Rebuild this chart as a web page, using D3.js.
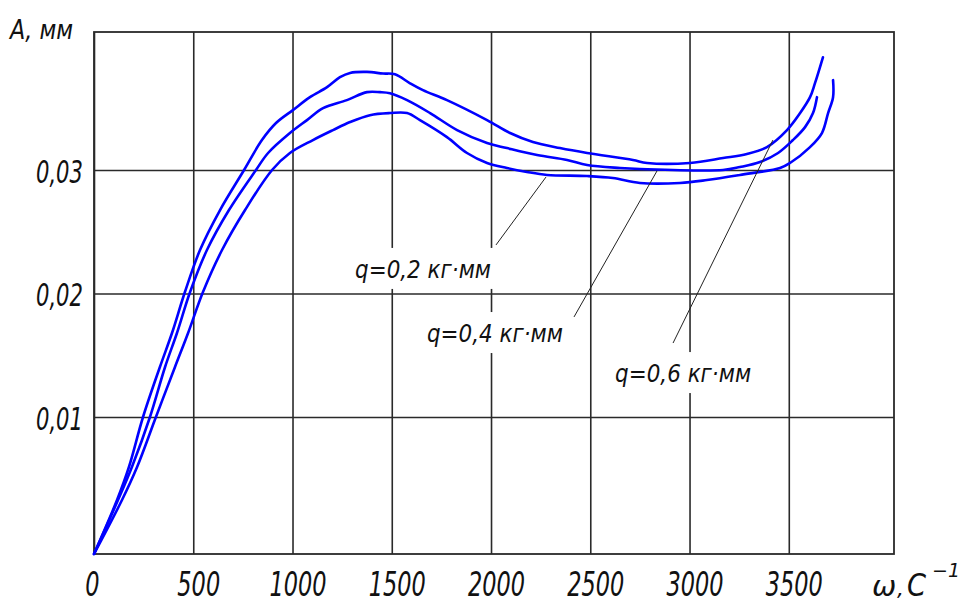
<!DOCTYPE html>
<meta charset="utf-8">
<title>A(ω)</title>
<style>
body {
  margin: 0px;
  background: #fff;
}
svg {
  display: block;
}
.grid line {
  stroke: #2a2a2a;
  stroke-width: 1.6;
}
.frame {
  fill: none;
  stroke: #2a2a2a;
  stroke-width: 1.8;
}
.curve {
  fill: none;
  stroke: #0000ff;
  stroke-width: 2.6;
  stroke-linejoin: round;
  stroke-linecap: round;
}
.leader {
  stroke: #222;
  stroke-width: 1;
}
.lbl {
  font-family: "DejaVu Sans", sans-serif;
  font-style: italic;
  fill: #111;
}
</style>

<script src="https://d3js.org/d3.v7.min.js"></script>

<body>
<script>
var width = 958, height = 601;

// tick values
var omegaTicks = [0, 500, 1000, 1500, 2000, 2500, 3000, 3500];
var ampTicks = [0.01, 0.02, 0.03];

// q = 0,2 кг·мм (lower curve)
var omegaQ02 = [0, 141, 217, 312, 408, 474, 549, 645, 761, 897, 987, 1103, 1204, 1290, 1390, 1491, 1577, 1642, 1778, 1879,
  1980, 2080, 2181, 2282, 2484, 2614, 2750, 2952, 3088, 3254, 3456, 3506, 3607, 3667, 3698, 3723, 3723];
var ampQ02 = [0, .00394, .00635, .0100, .01405, .01680, .02012, .02352, .02676, .0300, .03138, .03243, .03324, .03389, .03445, .03462, .03462, .03405, .03267, .03138,
  .03057, .03016, .02984, .02960, .02951, .02935, .02895, .02895, .02919, .02960, .03016, .03057, .03186, .03300, .03462, .03591, .03729];

// q = 0,4 кг·мм (middle curve)
var omegaQ04 = [0, 121, 191, 282, 358, 418, 484, 569, 680, 816, 877, 987, 1073, 1154, 1274, 1375, 1441, 1491, 1577, 1693,
  1829, 1980, 2080, 2232, 2383, 2484, 2650, 2750, 3169, 3254, 3355, 3446, 3521, 3582, 3622, 3642];
var ampQ04 = [0, .00394, .00635, .0100, .01405, .01680, .02012, .02352, .02676, .0300, .03138, .03300, .03405, .03502, .03567, .03632, .03632, .03623, .03567, .03462,
  .03324, .03219, .03178, .03121, .03081, .03040, .03016, .03008, .0300, .03024, .03065, .03138, .03243, .03348, .03462, .03591];

// q = 0,6 кг·мм (upper curve)
var omegaQ06 = [0, 116, 176, 247, 332, 393, 458, 534, 635, 756, 846, 917, 1002, 1088, 1174, 1239, 1290, 1375, 1456, 1516,
  1592, 1657, 1778, 1980, 2096, 2211, 2347, 2484, 2715, 2786, 3002, 3169, 3289, 3390, 3491, 3557, 3607, 3632, 3672];
var ampQ06 = [0, .00394, .00635, .0100, .01405, .01680, .02012, .02352, .02676, .0300, .03243, .03381, .03486, .03591, .03672, .03753, .03788, .03796, .03783, .03777,
  .03704, .03648, .03567, .03405, .03300, .03227, .03178, .03138, .03081, .03057, .03057, .03097, .03130, .03186, .03324, .03462, .03591, .03705, .03915];

var curveLabels = ["q=0,2 кг·мм", "q=0,4 кг·мм", "q=0,6 кг·мм"];
// leader lines: point on curve -> near label (ω, A)
var leaderFrom = [[2277, .02943], [2836, .02992], [3420, .03243]];
var leaderTo = [[2025, .02393], [2418, .01810], [2917, .01599]];
// label anchors (start of text, baseline)
var labelAt = [[1315, .02126], [1677, .01607], [2625, .01283]];

var series = [
  { w: omegaQ02, a: ampQ02 },
  { w: omegaQ04, a: ampQ04 },
  { w: omegaQ06, a: ampQ06 }
];

var svg = d3.select("body").append("svg")
    .attr("width", width)
    .attr("height", height);

var x = d3.scaleLinear().domain([0, 4030]).range([94, 894]);
// the drawing's vertical axis is not quite uniform, so the scale is piecewise
var y = d3.scaleLinear().domain([0, 0.01, 0.03, 0.0412]).range([554, 417, 170, 32]);

var x0 = x.range()[0], x1 = x.range()[1];
var yb = y.range()[0], yt = y.range()[3];

// grid + ticks
var fmtY = function(d) { return d3.format(".2f")(d).replace(".", ","); };

svg.append("g")
    .attr("class", "grid")
    .attr("transform", "translate(0," + yb + ")")
    .call(d3.axisBottom(x).tickValues(omegaTicks).tickSize(-(yb - yt)).tickFormat(d3.format("d")))
    .call(function(g) {
      g.select(".domain").remove();
      g.attr("font-family", null).attr("font-size", null);
      g.selectAll(".tick text")
        .attr("class", "lbl")
        .attr("x", 0).attr("y", 0).attr("dy", null)
        .attr("font-size", 33)
        .attr("transform", function(d) { return "translate(" + (d === 0 ? -2 : 5) + ",42) scale(0.68,1)"; });
    });

svg.append("g")
    .attr("class", "grid")
    .attr("transform", "translate(" + x0 + ",0)")
    .call(d3.axisLeft(y).tickValues(ampTicks).tickSize(-(x1 - x0)).tickFormat(fmtY))
    .call(function(g) {
      g.select(".domain").remove();
      g.attr("font-family", null).attr("font-size", null);
      g.selectAll(".tick text")
        .attr("class", "lbl")
        .attr("x", 0).attr("dy", null)
        .attr("font-size", 32)
        .attr("transform", "translate(-11,12) scale(0.66,1)");
    });

svg.append("rect")
    .attr("class", "frame")
    .attr("x", x0).attr("y", yt)
    .attr("width", x1 - x0).attr("height", yb - yt);

// curves
var line = d3.line()
    .x(function(d) { return x(d[0]); })
    .y(function(d) { return y(d[1]); })
    .curve(d3.curveCatmullRom.alpha(0.5));

svg.selectAll("path.curve")
    .data(series)
  .enter().append("path")
    .attr("class", "curve")
    .attr("d", function(s) { return line(d3.zip(s.w, s.a)); });

// leaders
svg.selectAll("line.leader")
    .data(curveLabels)
  .enter().append("line")
    .attr("class", "leader")
    .attr("x1", function(d, i) { return x(leaderFrom[i][0]); })
    .attr("y1", function(d, i) { return y(leaderFrom[i][1]); })
    .attr("x2", function(d, i) { return x(leaderTo[i][0]); })
    .attr("y2", function(d, i) { return y(leaderTo[i][1]); });

// labels with white knock-out behind them
var labels = svg.selectAll("g.curvelabel")
    .data(curveLabels)
  .enter().append("g")
    .attr("class", "curvelabel");

labels.append("rect")
    .attr("fill", "#fff")
    .attr("x", function(d, i) { return x(labelAt[i][0]) - 4; })
    .attr("y", function(d, i) { return y(labelAt[i][1]) - 30; })
    .attr("width", 144)
    .attr("height", 41);

labels.append("text")
    .attr("class", "lbl")
    .attr("x", function(d, i) { return x(labelAt[i][0]); })
    .attr("y", function(d, i) { return y(labelAt[i][1]); })
    .attr("font-size", 24)
    .attr("textLength", 136)
    .attr("lengthAdjust", "spacingAndGlyphs")
    .text(function(d) { return d; });

// axis titles
svg.append("text")
    .attr("class", "lbl")
    .attr("x", 10).attr("y", 39)
    .attr("font-size", 27)
    .attr("textLength", 63)
    .attr("lengthAdjust", "spacingAndGlyphs")
    .text("А, мм");

svg.append("text")
    .attr("class", "lbl")
    .attr("x", 872).attr("y", 596)
    .attr("font-family", "Liberation Serif, serif")
    .attr("font-size", 29)
    .text("ω");

svg.append("text")
    .attr("class", "lbl")
    .attr("x", 897).attr("y", 596)
    .attr("font-size", 22)
    .text(",");

svg.append("text")
    .attr("class", "lbl")
    .attr("x", 907).attr("y", 596)
    .attr("font-size", 32)
    .attr("textLength", 19)
    .attr("lengthAdjust", "spacingAndGlyphs")
    .text("С");

svg.append("text")
    .attr("class", "lbl")
    .attr("x", 932).attr("y", 577)
    .attr("font-size", 19)
    .text("−1");
</script>
